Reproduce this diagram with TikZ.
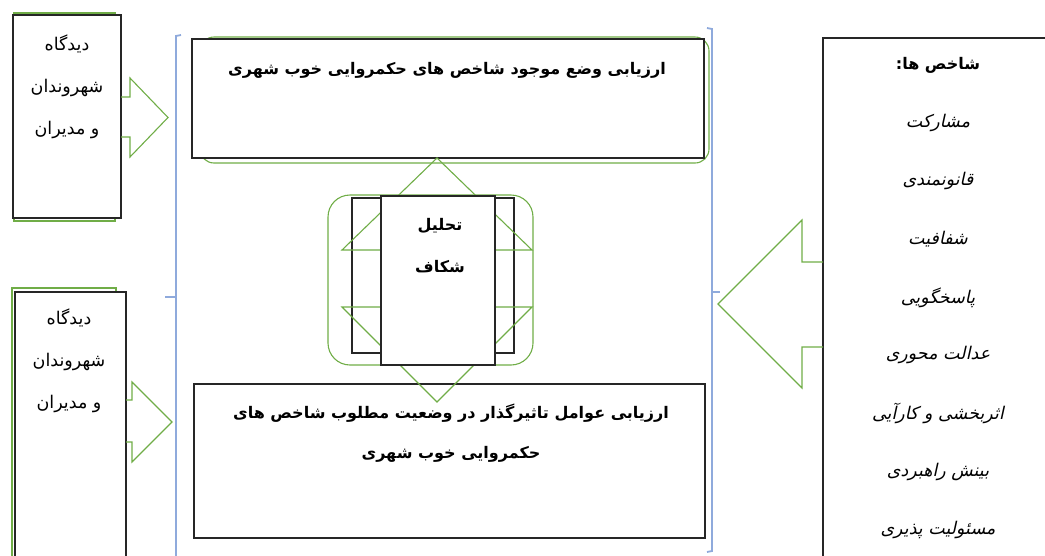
\documentclass[tikz,border=0pt]{standalone}
\usepackage{fontspec}
\usepackage{tikz}
\usetikzlibrary{positioning}
\newfontfamily\farsi[Script=Arabic]{DejaVu Sans}
\newfontfamily\farsislant[Script=Arabic,FakeSlant=0.22]{DejaVu Sans}
\TeXXeTstate=1
\newcommand{\rl}[1]{\beginR #1\endR}
\definecolor{shapegreen}{RGB}{112,173,71}
\definecolor{brackblue}{RGB}{143,170,220}

\begin{document}
\begin{tikzpicture}[x=1pt,y=-1pt,
	  box/.style = {draw=black!85, line width=1.1pt, fill=white, inner sep=0pt},
	  greenline/.style = {draw=shapegreen, line width=1.1pt, line join=miter},
	  bracket/.style = {draw=brackblue, line width=1.8pt},
	  farsitext/.style = {font=\farsi\fontsize{17.5}{20}\selectfont, align=center, inner sep=0pt},
	  boldtext/.style = {farsitext, font=\farsi\bfseries\fontsize{16}{19}\selectfont},
	  listtext/.style = {font=\farsislant\fontsize{17.5}{20}\selectfont, inner sep=0pt}]
	  \useasboundingbox (0,0) rectangle (1045,555);
	  \clip (0,0) rectangle (1045,555);
	  \draw[bracket] (181,35) -- (176,36) -- (176,560);
	  \draw[bracket] (176,297) -- (165,297);
	  \draw[bracket] (707,28) -- (712,29) -- (712,551) -- (707,552);
	  \draw[bracket] (712,292) -- (720,292);
	  \draw[greenline] (14,13) rectangle (115,221);
	  \draw[greenline] (12,288) rectangle (116,560);
	  \draw[greenline, rounded corners=14] (200,37) rectangle (709,163);
	  \draw[greenline, rounded corners=22] (328,195) rectangle (533,365);
	  \node[box, minimum width=108, minimum height=203] (viewtop) at (67,116.5) {};
	  \node[box, minimum width=111, minimum height=265] (viewbot) at (70.5,424.5) {};
	  \node[box, minimum width=512, minimum height=119] (current) at (448,98.5) {};
	  \node[box, minimum width=511, minimum height=154] (factors) at (449.5,461) {};
	  \node[box, minimum width=240, minimum height=535] (indices) at (943,305.5) {};
	  \node[box, minimum width=162, minimum height=155] (gapback) at (433,275.5) {};
	  \draw[greenline] (121,97) -- (130,97) -- (130,78) -- (168,117.5) -- (130,157) -- (130,137) -- (121,137);
	  \draw[greenline] (126,400) -- (132,400) -- (132,382) -- (172,422) -- (132,462) -- (132,442) -- (126,442);
	  \draw[greenline] (823,262) -- (802,262) -- (802,220) -- (718,304) -- (802,388) -- (802,347) -- (823,347);
	  \draw[greenline] (437,158) -- (532,250) -- (477,250) -- (477,307) -- (532,307) -- (437,402)
	    -- (342,307) -- (397,307) -- (397,250) -- (342,250) -- cycle;
	  \node[box, minimum width=114, minimum height=169] (gap) at (438,280.5) {};
	  \node[farsitext] (viewtoptext) at (67,87) {\rl{دیدگاه}\\[22pt]\rl{شهروندان}\\[22pt]\rl{و مدیران}};
	  \node[farsitext] (viewbottext) at (69,361) {\rl{دیدگاه}\\[22pt]\rl{شهروندان}\\[22pt]\rl{و مدیران}};
	  \node[boldtext] (currenttext) at (447,70) {\rl{ارزیابی وضع موجود شاخص های حکمروایی خوب شهری}};
	  \node[boldtext] (factorstext) at (451,433) {\rl{ارزیابی عوامل تاثیرگذار در وضعیت مطلوب شاخص های}\\[21pt]\rl{حکمروایی خوب شهری}};
	  \node[boldtext] (gaptext) at (440,246) {\rl{تحلیل}\\[23pt]\rl{شکاف}};
	  \node[boldtext] (indicestext) at (938,65) {\rl{شاخص ها:}};
	  \foreach \w [count=\i] in {مشارکت, قانونمندی, شفافیت, پاسخگویی, عدالت محوری, اثربخشی و کارآیی, بینش راهبردی, مسئولیت پذیری}
	    \node[listtext] (ind\i) at (938,{123+58.1*(\i-1)}) {\rl{\w}};
	\end{tikzpicture}
\end{document}
